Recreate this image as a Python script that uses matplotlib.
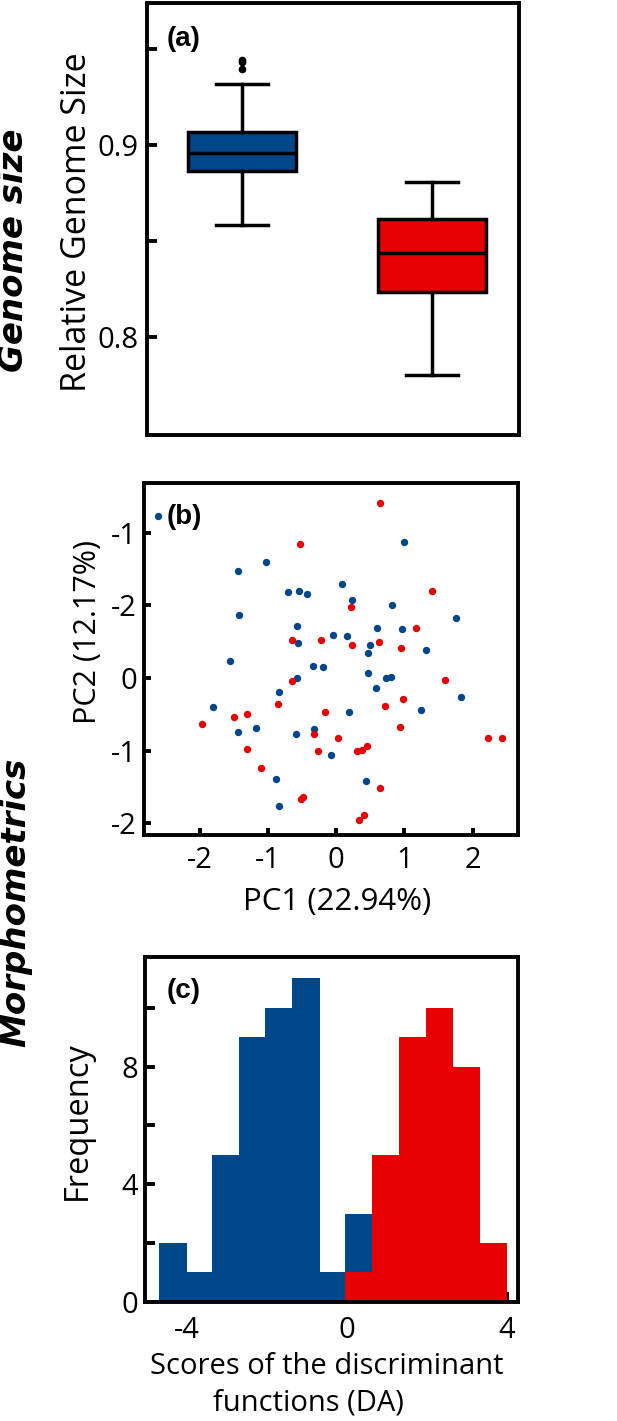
import numpy as np
import matplotlib
matplotlib.use("Agg")
import matplotlib.pyplot as plt

# ---------------- data ----------------
BLUE = "#00468a"
RED = "#e60000"

# (a) boxplot statistics (relative genome size)
box_labels = ["blue", "red"]
box_q1 = [0.8866, 0.8235]
box_med = [0.8960, 0.8437]
box_q3 = [0.9066, 0.8615]
box_whislo = [0.8582, 0.7800]
box_whishi = [0.9317, 0.8806]
box_fliers_blue = [0.9442, 0.9432, 0.9394]
box_fliers_red = []
a_yticks = [0.80, 0.85, 0.90, 0.95]
a_yticklabels = ["0.8", "", "0.9", ""]

# (b) PCA scores
blue_pc1 = [-2.61, 1.00, -1.02, -1.44, 0.08, -0.70, -0.54, -0.42, 0.23, 0.82,
            -1.43, 1.76, -0.58, 0.60, 0.97, -0.05, 0.16, -0.56, 0.49, 0.47,
            1.32, -1.56, -0.34, -0.19, 0.47, -0.57, 0.73, 0.81, 0.59, -0.83,
            1.83, -1.80, 0.19, 1.24, -1.17, -0.33, -1.44, -0.59, -0.08, -0.88,
            0.44, -0.83]
blue_pc2 = [2.23, 1.87, 1.60, 1.48, 1.29, 1.19, 1.20, 1.16, 1.07, 1.01,
            0.87, 0.83, 0.72, 0.69, 0.68, 0.59, 0.58, 0.49, 0.46, 0.35,
            0.39, 0.23, 0.17, 0.15, 0.07, 0.00, 0.00, 0.01, -0.14, -0.19,
            -0.26, -0.40, -0.46, -0.44, -0.69, -0.70, -0.74, -0.77, -1.06, -1.39,
            -1.42, -1.76]
red_pc1 = [0.64, -0.53, 1.40, 0.22, 1.17, -0.64, -0.22, 0.23, 0.63, 0.95,
           -0.64, 1.59, 0.98, -0.85, 0.72, -0.16, -1.96, -1.49, -1.30, 0.93,
           -0.33, 0.03, 2.22, 2.43, -1.31, -0.26, 0.31, 0.38, 0.46, -1.10,
           0.65, -0.51, -0.49, 0.41, 0.33]
red_pc2 = [2.41, 1.84, 1.20, 0.98, 0.69, 0.53, 0.53, 0.46, 0.50, 0.41,
           -0.04, -0.03, -0.29, -0.36, -0.39, -0.47, -0.63, -0.54, -0.49, -0.67,
           -0.77, -0.82, -0.82, -0.83, -0.97, -1.01, -1.00, -0.99, -0.94, -1.24,
           -1.51, -1.66, -1.64, -1.88, -1.95]
b_xticks = [-2, -1, 0, 1, 2]
b_xticklabels = ["-2", "-1", "0", "1", "2"]
b_yticks = [2, 1, 0, -1, -2]
b_yticklabels = ["-1", "-2", "0", "-1", "-2"]

# (c) DA score histograms
hist_edges = [-4.69, -3.99, -3.36, -2.69, -2.03, -1.36, -0.66, -0.03,
              0.63, 1.30, 1.98, 2.67, 3.33, 4.00]
blue_counts = [2, 1, 5, 9, 10, 11, 1, 3, 0, 0, 0, 0, 0]
red_counts = [0, 0, 0, 0, 0, 0, 0, 1, 5, 9, 10, 8, 2]
c_xticks = [-4, -2, 0, 2, 4]
c_xticklabels = ["-4", "", "0", "", "4"]
c_yticks = [0, 2, 4, 6, 8, 10]
c_yticklabels = ["0", "", "4", "", "8", ""]

# ---------------- figure ----------------
W, H = 617, 1421
fig = plt.figure(figsize=(W / 100, H / 100), dpi=100)
FONT = "Open Sans"
TICK_FS = 21
SPINE_LW = 2.8


def rect(l, r, t, b):
    return [l / W, 1 - b / H, (r - l) / W, (b - t) / H]


def style(ax, ticklen=7, xpad=8, ypad=5):
    for s in ax.spines.values():
        s.set_linewidth(SPINE_LW)
        s.set_zorder(5)
    ax.tick_params(direction="in", length=ticklen, width=SPINE_LW,
                   labelsize=TICK_FS, top=False, right=False)
    ax.tick_params(axis="x", pad=xpad)
    ax.tick_params(axis="y", pad=ypad)
    for lab in ax.get_xticklabels() + ax.get_yticklabels():
        lab.set_fontfamily(FONT)


# ---- (a) ----
axa = fig.add_axes(rect(146.7, 519, 3.3, 435))
stats = []
fl = [box_fliers_blue, box_fliers_red]
for i in range(2):
    stats.append(dict(label=box_labels[i], q1=box_q1[i], med=box_med[i],
                      q3=box_q3[i], whislo=box_whislo[i],
                      whishi=box_whishi[i], fliers=fl[i]))
bp = axa.bxp(stats, positions=[1, 2], widths=0.57, capwidths=0.27,
             patch_artist=True, showfliers=True,
             boxprops=dict(linewidth=2.5, edgecolor="black"),
             medianprops=dict(linewidth=2.5, color="black"),
             whiskerprops=dict(linewidth=2.5, color="black"),
             capprops=dict(linewidth=2.5, color="black"),
             flierprops=dict(marker="o", markerfacecolor="black",
                             markeredgecolor="black", markersize=4.5))
for patch, c in zip(bp["boxes"], [BLUE, RED]):
    patch.set_facecolor(c)
axa.set_xlim(0.498, 2.458)
axa.set_ylim(0.749, 0.9737)
axa.set_xticks([])
axa.set_yticks(a_yticks)
axa.set_yticklabels(a_yticklabels)
style(axa, ticklen=7, ypad=6)

# ---- (b) ----
axb = fig.add_axes(rect(144, 518.3, 482.7, 835))
axb.scatter(blue_pc1, blue_pc2, s=28, color=BLUE, linewidths=0, zorder=3)
axb.scatter(red_pc1, red_pc2, s=28, color=RED, linewidths=0, zorder=3)
axb.set_xlim(-2.815, 2.67)
axb.set_ylim(-2.16, 2.69)
axb.set_xticks(b_xticks)
axb.set_xticklabels(b_xticklabels)
axb.set_yticks(b_yticks)
axb.set_yticklabels(b_yticklabels)
style(axb, ticklen=5, xpad=8, ypad=5)

# ---- (c) ----
axc = fig.add_axes(rect(144.7, 518.3, 957.3, 1301.7))
edges = np.array(hist_edges)
widths = np.diff(edges)
axc.bar(edges[:-1], blue_counts, width=widths, align="edge", color=BLUE,
        linewidth=0, zorder=2)
axc.bar(edges[:-1], red_counts, width=widths, align="edge", color=RED,
        linewidth=0, zorder=3)
axc.set_xlim(-5.05, 4.29)
axc.set_ylim(0, 11.72)
axc.set_xticks(c_xticks)
axc.set_xticklabels(c_xticklabels)
axc.set_yticks(c_yticks)
axc.set_yticklabels(c_yticklabels)
style(axc, ticklen=7, xpad=10, ypad=5)


def ftext(x, y, s, **kw):
    fig.text(x / W, 1 - y / H, s, ha="center", va="center", **kw)


# panel letters
for (px, py, s) in [(184, 39, "(a)"), (184, 517, "(b)"), (184, 991, "(c)")]:
    ftext(px, py, s, fontsize=20, fontweight="bold", family="Liberation Sans")

# axis labels
ftext(77, 222, "Relative Genome Size", rotation=90, fontsize=24.5, family=FONT)
ftext(88, 632, "PC2 (12.17%)", rotation=90, fontsize=22, family=FONT)
ftext(337, 902, "PC1 (22.94%)", fontsize=22.5, family=FONT)
ftext(77, 1121, "Frequency", rotation=90, fontsize=23.5, family=FONT)
ftext(327, 1366, "Scores of the discriminant", fontsize=21, family=FONT)
ftext(308, 1403, "functions (DA)", fontsize=21, family=FONT)

# section titles
ftext(14, 250, "Genome size", rotation=90, fontsize=24.5, fontweight="bold",
      fontstyle="italic", family="DejaVu Sans")
ftext(16, 902, "Morphometrics", rotation=90, fontsize=24.5, fontweight="bold",
      fontstyle="italic", family="DejaVu Sans")

fig.savefig("out.png", dpi=100)
